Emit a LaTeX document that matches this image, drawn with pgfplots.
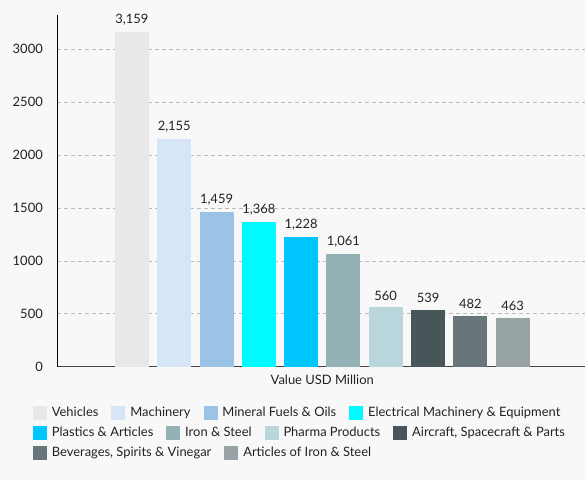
\documentclass[border=0pt]{standalone}
\usepackage{fontspec}
\setmainfont{Lato}
\usepackage{pgfplots}
\pgfplotsset{compat=1.18}

\definecolor{bgc}{HTML}{F8F8F8}
\definecolor{txt}{HTML}{222222}
\definecolor{gridc}{HTML}{BBBBBB}
\definecolor{axc}{HTML}{444444}
\definecolor{c1}{HTML}{E8E8E8}
\definecolor{c2}{HTML}{D6E6F7}
\definecolor{c3}{HTML}{9BC3E6}
\definecolor{c4}{HTML}{00FAFF}
\definecolor{c5}{HTML}{00C6FF}
\definecolor{c6}{HTML}{94B1B5}
\definecolor{c7}{HTML}{B8D6DB}
\definecolor{c8}{HTML}{48565A}
\definecolor{c9}{HTML}{687579}
\definecolor{c10}{HTML}{98A3A5}

\newcommand{\txtfont}{\fontsize{13}{15}\selectfont}

\pgfplotsset{
  legrow/.style={
    hide axis, scale only axis, width=585bp, height=480bp,
    at={(0,0)}, anchor=south west,
    xmin=0, xmax=1, ymin=0, ymax=1,
    legend style={
      at={(0.0564,#1)}, anchor=west, draw=none, fill=none,
      inner sep=0pt, outer sep=0pt, legend columns=-1,
      font=\txtfont, text=txt,
      nodes={inner sep=0pt, anchor=west},
      /tikz/column sep=0pt,
      /tikz/every odd column/.append style={column sep=5.5bp},
      /tikz/every even column/.append style={column sep=13bp},
    },
    legend image code/.code={\fill[##1] (0bp,-6.5bp) rectangle (13bp,6.5bp);},
  },
}

\begin{document}
\begin{tikzpicture}
\fill[bgc] (0,0) rectangle (585bp,480bp);

\begin{axis}[
  at={(57bp,113bp)}, anchor=south west,
  scale only axis, width=528bp, height=352bp,
  ybar, bar width=34bp, bar shift=0pt,
  every axis plot/.append style={bar shift=0pt, draw=none},
  xmin=-1.773, xmax=10.70, ymin=0, ymax=3323,
  axis x line*=bottom, axis y line*=left,
  axis line style={-},
  x axis line style={draw=axc, line width=1bp},
  y axis line style={draw=black, line width=0.8bp},
  major tick length=0pt,
  ytick={0,500,...,3000},
  yticklabels={0,500,1000,1500,2000,2500,3000},
  xtick={4.5}, xticklabels={Value USD Million},
  ymajorgrids, grid style={gridc, dash pattern=on 4bp off 3bp, line width=0.6bp},
  tick label style={font=\txtfont, text=txt, inner sep=0pt},
  yticklabel style={anchor=east, xshift=-14bp},
  xticklabel style={anchor=center, yshift=-13bp},
  nodes near coords={\pgfmathprintnumber[assume math mode=true,1000 sep={,}]{\pgfplotspointmeta}},
  every node near coord/.append style={font=\txtfont, text=txt, anchor=south, inner sep=0pt, yshift=6.5bp},
]
\addplot[fill=c1] coordinates {(0,3159)};
\addplot[fill=c2] coordinates {(1,2155)};
\addplot[fill=c3] coordinates {(2,1459)};
\addplot[fill=c4] coordinates {(3,1368)};
\addplot[fill=c5] coordinates {(4,1228)};
\addplot[fill=c6] coordinates {(5,1061)};
\addplot[fill=c7] coordinates {(6,560)};
\addplot[fill=c8] coordinates {(7,539)};
\addplot[fill=c9] coordinates {(8,482)};
\addplot[fill=c10] coordinates {(9,463)};
\end{axis}

\begin{axis}[legrow=0.1396]
\addlegendimage{c1}\addlegendentry{Vehicles}
\addlegendimage{c2}\addlegendentry{Machinery}
\addlegendimage{c3}\addlegendentry{Mineral Fuels \& Oils}
\addlegendimage{c4}\addlegendentry{Electrical Machinery \& Equipment}
\end{axis}

\begin{axis}[legrow=0.0979]
\addlegendimage{c5}\addlegendentry{Plastics \& Articles}
\addlegendimage{c6}\addlegendentry{Iron \& Steel}
\addlegendimage{c7}\addlegendentry{Pharma Products}
\addlegendimage{c8}\addlegendentry{Aircraft, Spacecraft \& Parts}
\end{axis}

\begin{axis}[legrow=0.05625]
\addlegendimage{c9}\addlegendentry{Beverages, Spirits \& Vinegar}
\addlegendimage{c10}\addlegendentry{Articles of Iron \& Steel}
\end{axis}
\end{tikzpicture}
\end{document}
